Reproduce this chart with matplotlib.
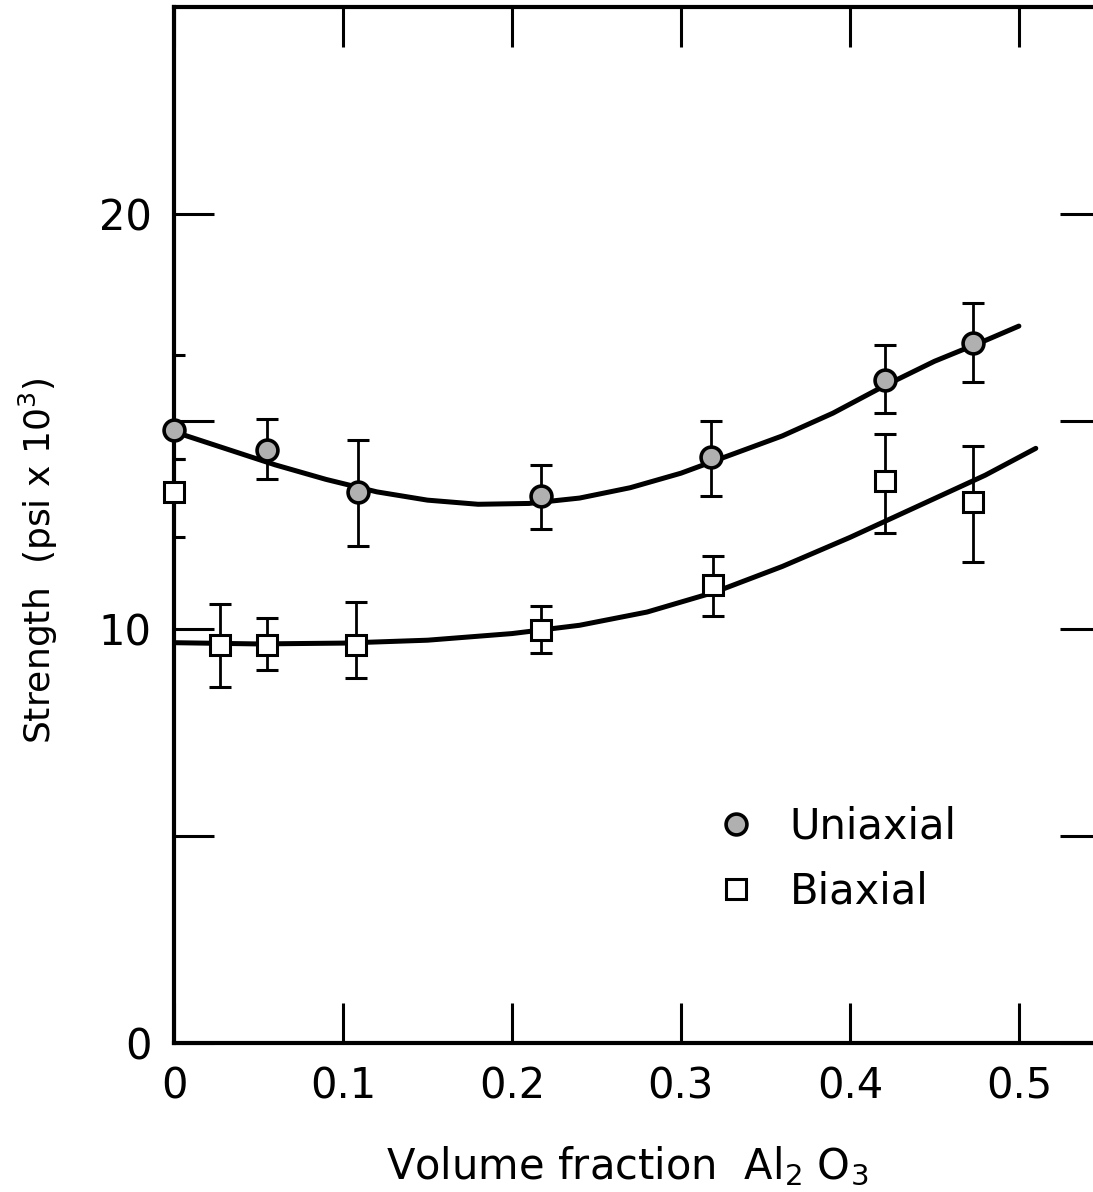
import numpy as np
import matplotlib.pyplot as plt

# data
uni_x = [0.0, 0.055, 0.109, 0.217, 0.318, 0.421, 0.473]
uni_y = [14.8, 14.3, 13.3, 13.2, 14.15, 16.0, 16.9]
uni_lo = [14.1, 13.6, 12.0, 12.4, 13.2, 15.2, 15.95]
uni_hi = [16.6, 15.05, 14.55, 13.95, 15.0, 16.85, 17.85]

bi_x = [0.0, 0.027, 0.055, 0.108, 0.217, 0.319, 0.421, 0.473]
bi_y = [13.3, 9.6, 9.6, 9.6, 9.97, 11.05, 13.55, 13.05]
bi_lo = [12.2, 8.6, 9.0, 8.8, 9.4, 10.3, 12.3, 11.6]
bi_hi = [14.1, 10.6, 10.25, 10.65, 10.55, 11.75, 14.7, 14.4]

# hand-drawn trend curves (read points)
uni_cx = [0.0, 0.03, 0.06, 0.09, 0.12, 0.15, 0.18, 0.21, 0.24, 0.27, 0.30, 0.33, 0.36, 0.39, 0.42, 0.45, 0.48, 0.50]
uni_cy = [14.75, 14.35, 13.95, 13.6, 13.3, 13.1, 13.0, 13.02, 13.15, 13.4, 13.75, 14.2, 14.65, 15.2, 15.85, 16.45, 16.95, 17.3]
bi_cx = [0.0, 0.05, 0.10, 0.15, 0.20, 0.24, 0.28, 0.32, 0.36, 0.40, 0.44, 0.48, 0.51]
bi_cy = [9.66, 9.63, 9.65, 9.72, 9.88, 10.08, 10.4, 10.88, 11.5, 12.2, 12.95, 13.7, 14.35]

xticks = [0, 0.1, 0.2, 0.3, 0.4, 0.5]
xlabels = ["0", "0.1", "0.2", "0.3", "0.4", "0.5"]
yticks = [0, 5, 10, 15, 20]
ylabels = ["0", "", "10", "", "20"]

fig = plt.figure(figsize=(10.93, 11.92), dpi=100)
ax = fig.add_axes([174/1093, 1 - 1043/1192, 926/1093, 1036/1192])

ax.plot(uni_cx, uni_cy, color="black", lw=3.6, solid_capstyle="round", zorder=2)
ax.plot(bi_cx, bi_cy, color="black", lw=3.6, solid_capstyle="round", zorder=2)

uerr = [np.array(uni_y) - np.array(uni_lo), np.array(uni_hi) - np.array(uni_y)]
berr = [np.array(bi_y) - np.array(bi_lo), np.array(bi_hi) - np.array(bi_y)]
ax.errorbar(uni_x, uni_y, yerr=uerr, fmt="none", ecolor="black", elinewidth=2.0,
            capsize=8, capthick=2.2, zorder=3)
ax.errorbar(bi_x, bi_y, yerr=berr, fmt="none", ecolor="black", elinewidth=2.0,
            capsize=8, capthick=2.2, zorder=3)
ax.plot(uni_x, uni_y, "o", ms=15, mfc="#b0b0b0", mec="black", mew=2.6, zorder=4,
        clip_on=False, label="Uniaxial")
ax.plot(bi_x, bi_y, "s", ms=14, mfc="white", mec="black", mew=2.2, zorder=4,
        clip_on=False, label="Biaxial")

ax.set_xlim(0, 0.548)
ax.set_ylim(0, 25)
ax.set_xticks(xticks)
ax.set_xticklabels(xlabels)
ax.set_yticks(yticks)
ax.set_yticklabels(ylabels)
ax.tick_params(direction="in", length=29, width=2.2, top=True, right=True,
               labelsize=30, pad=16)
for s in ax.spines.values():
    s.set_linewidth(3)

ax.set_xlabel("Volume fraction  Al$_2$ O$_3$", fontsize=30)
ax.xaxis.set_label_coords(0.489, -0.098)
ax.set_ylabel("Strength  (psi x 10$^3$)", fontsize=26,
              family=["Liberation Sans Narrow", "DejaVu Sans"])
ax.yaxis.set_label_coords(-0.123, 0.466)

ax.legend(loc="upper left", bbox_to_anchor=(0.575, 0.245), frameon=False,
          fontsize=30, handlelength=0.6, handletextpad=1.0, labelspacing=0.55,
          borderaxespad=0)

fig.savefig("out.png", dpi=100)
